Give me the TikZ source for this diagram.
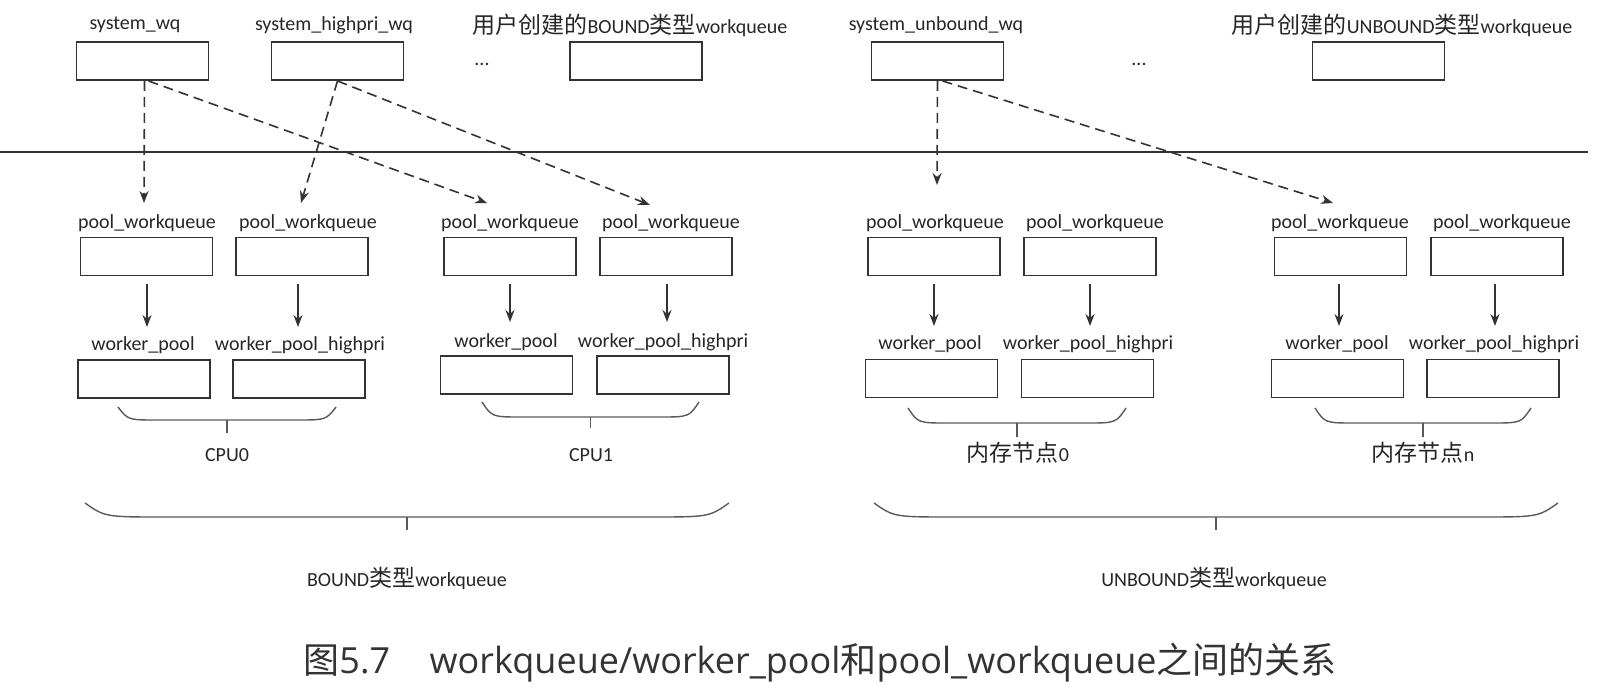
\documentclass[tikz,border=0pt]{standalone}
\usepackage{fontspec}
\setmainfont{Carlito}
\newfontfamily\cjkfam{Noto Sans CJK SC}
\newfontfamily\capfont{Open Sans}
\newcommand\zh[1]{{\cjkfam\fontsize{11.5}{12}\selectfont #1}}
\newcommand\capzh[1]{{\cjkfam #1}}
\usetikzlibrary{arrows.meta}
\newcommand\drawbrace[6]{%
  \draw[bracestyle] (#1,#3) .. controls ({#1+0.25*#6},#4) .. ({#1+#6},#4) -- ({#2-#6},#4) .. controls ({#2-0.25*#6},#4) .. (#2,#3);
  \draw[bracestyle] ({(#1+#2)/2},#4) -- ({(#1+#2)/2},#5);}
\begin{document}
\begin{tikzpicture}[x=0.5pt,y=-0.5pt,
  box/.style={draw=black!80, line width=0.95pt, minimum width=66pt, minimum height=19pt, inner sep=0pt},
  lab/.style={inner sep=0pt, text=black!85, font=\fontsize{10}{12}\selectfont},
  dasharrow/.style={draw=black!80, line width=0.8pt, dash pattern=on 5pt off 3pt, -{Stealth[length=6pt,width=4.5pt]}},
  solidarrow/.style={draw=black!80, line width=0.8pt, -{Stealth[length=6pt,width=4.5pt]}, shorten <=4pt},
  bracestyle/.style={draw=black!65, line width=0.7pt},
  captionstyle/.style={inner sep=0pt, text=black!80, font=\capfont\fontsize{18}{20}\selectfont}]
\useasboundingbox (0,0) rectangle (1603,693);

% top workqueues
\node[lab] (lswq) at (135,25) {system\_wq};
\node[box] (swq) at (142.5,61) {};
\node[lab] (lhpq) at (334,25) {system\_highpri\_wq};
\node[box] (hpq) at (337.5,61) {};
\node[lab] (dots1) at (482,64) {...};
\node[lab] (lbq) at (630,25) {\zh{用户创建的}BOUND\zh{类型}workqueue};
\node[box] (bq) at (636,61) {};
\node[lab] (luwq) at (936,25) {system\_unbound\_wq};
\node[box] (uwq) at (937.5,61) {};
\node[lab] (dots2) at (1139,64) {...};
\node[lab] (lubq) at (1402,25) {\zh{用户创建的}UNBOUND\zh{类型}workqueue};
\node[box] (ubq) at (1378.5,61) {};

% separator
\coordinate (sepL) at (0,152);
\coordinate (sepR) at (1588,152);
\draw[draw=black!80, line width=0.9pt] (sepL) -- (sepR);

% pool_workqueue labels and boxes
\foreach \n/\lx/\bx in {1/147/146.5, 2/308/302, 3/510/510, 4/671/666, 5/935/934, 6/1095/1090, 7/1340/1340.5, 8/1502/1497}{
  \node[lab] (lp\n) at (\lx,223) {pool\_workqueue};
  \node[box] (p\n) at (\bx,256.5) {};
}

% worker_pool labels and boxes
\node[lab] (lw1) at (143,345) {worker\_pool};
\node[lab] (lw2) at (300,345) {worker\_pool\_highpri};
\node[box] (w1) at (144,379) {};
\node[box] (w2) at (299,379) {};
\node[lab] (lw3) at (506,342) {worker\_pool};
\node[lab] (lw4) at (663,342) {worker\_pool\_highpri};
\node[box] (w3) at (506.5,375) {};
\node[box] (w4) at (663,375) {};
\node[lab] (lw5) at (930,344) {worker\_pool};
\node[lab] (lw6) at (1088,344) {worker\_pool\_highpri};
\node[box] (w5) at (931.5,378.5) {};
\node[box] (w6) at (1087.5,378.5) {};
\node[lab] (lw7) at (1337,344) {worker\_pool};
\node[lab] (lw8) at (1494,344) {worker\_pool\_highpri};
\node[box] (w7) at (1337.5,378.5) {};
\node[box] (w8) at (1493,378.5) {};

% dashed arrows
\coordinate (da1) at (144,203);
\coordinate (da2) at (487,203);
\coordinate (da3) at (301,203);
\coordinate (da4) at (650,205);
\coordinate (da5) at (937,185);
\coordinate (da6) at (1333,203);
\draw[dasharrow] ([xshift=1pt]swq.south) -- (da1);
\draw[dasharrow] ([xshift=3pt]swq.south) -- (da2);
\draw[dasharrow] (hpq.south) -- (da3);
\draw[dasharrow] (hpq.south) -- (da4);
\draw[dasharrow] (uwq.south) -- (da5);
\draw[dasharrow] ([xshift=2.5pt]uwq.south) -- (da6);

% solid arrows
\coordinate (sa1) at (147,327);
\coordinate (sa2) at (298,327);
\coordinate (sa3) at (510,322);
\coordinate (sa4) at (667,322);
\coordinate (sa5) at (934,326);
\coordinate (sa6) at (1090,326);
\coordinate (sa7) at (1339,326);
\coordinate (sa8) at (1495,326);
\foreach \n in {1,...,8}{
  \draw[solidarrow] (p\n.south -| sa\n) -- (sa\n);
}

% small braces
\drawbrace{118}{336}{407}{420}{433}{40}
\drawbrace{482}{699}{402}{417}{428}{40}
\drawbrace{908}{1126}{408}{423}{437}{40}
\drawbrace{1315}{1531}{408}{423}{437}{40}
\node[lab] (cpu0) at (227,455) {CPU0};
\node[lab] (cpu1) at (591,455) {CPU1};
\node[lab] (mem0) at (1018,453) {\zh{内存节点}0};
\node[lab] (memn) at (1423,453) {\zh{内存节点}n};

% big braces
\drawbrace{85}{729}{503}{517}{530}{80}
\drawbrace{874}{1558}{503}{517}{530}{80}
\node[lab] (bound) at (407,578) {BOUND\zh{类型}workqueue};
\node[lab] (unbound) at (1214,578) {UNBOUND\zh{类型}workqueue};

% caption
\node[captionstyle] (caption) at (820,663) {\capzh{图}5.7\hspace{1.1em}workqueue/worker\_pool\capzh{和}pool\_workqueue\capzh{之间的关系}};
\end{tikzpicture}
\end{document}
